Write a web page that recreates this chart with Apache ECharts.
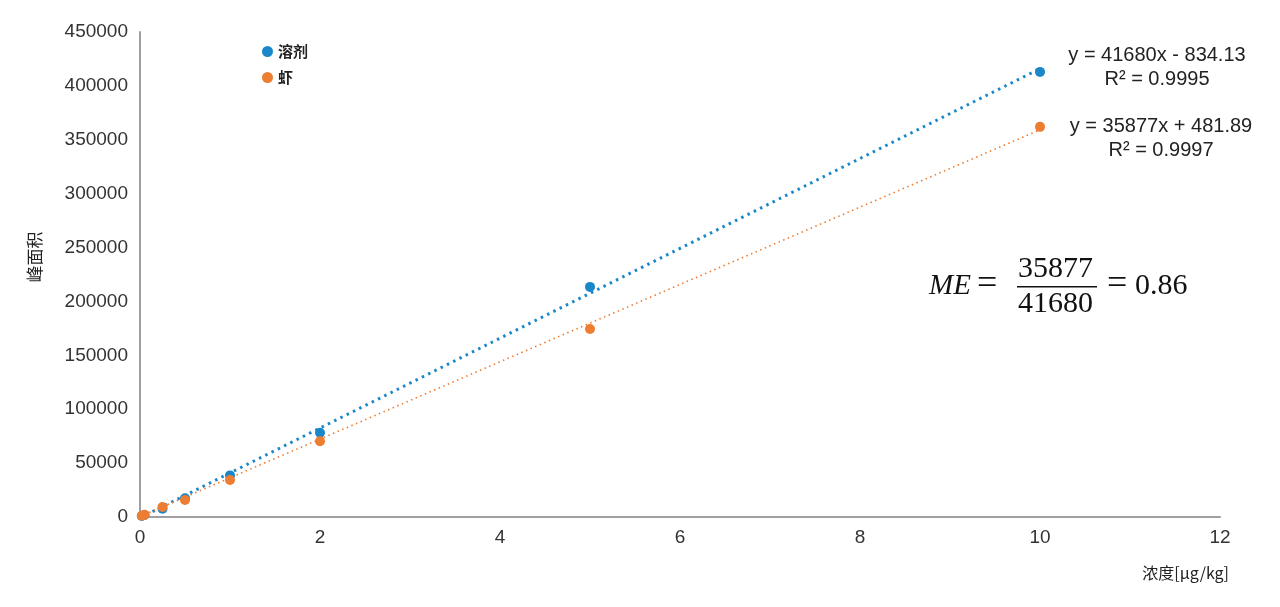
<!DOCTYPE html>
<html>
<head>
<meta charset="utf-8">
<script src="https://cdn.jsdelivr.net/npm/echarts@6/dist/echarts.min.js"></script>
<style>html,body{margin:0;padding:0;background:#fff}#c{width:1280px;height:607px}</style>
</head>
<body>
<div id="c"></div>
<script>
const concentrations = [0.02, 0.05, 0.25, 0.5, 1, 2, 5, 10];
const solventValues = [1000, 1800, 7600, 17400, 38600, 78200, 213500, 413000];
const shrimpValues = [1200, 2000, 9300, 15800, 34300, 70300, 174500, 362000];
const seriesNames = ['溶剂', '虾'];
const solventFit = { slope: 41680, intercept: -834.13, r2: '0.9995' };
const shrimpFit = { slope: 35877, intercept: 481.89, r2: '0.9997' };
const fitRange = [0, 10];
const colors = ['#1a87c9', '#ed7d31'];

const pts = (xs, ys) => xs.map((x, i) => [x, ys[i]]);
const fitLine = f => fitRange.map(x => [x, f.slope * x + f.intercept]);

const chart = echarts.init(document.getElementById('c'));
const textColor = '#333';
const eqFont = { fontSize: 20, fill: '#222', fontFamily: 'Liberation Sans', textAlign: 'center', textVerticalAlign: 'middle' };
const mathFont = { fill: '#111', fontFamily: 'Liberation Serif', textVerticalAlign: 'middle' };
chart.setOption({
  animation: false,
  grid: { left: 140, right: 60, top: 32, bottom: 90 },
  legend: {
    data: seriesNames,
    orient: 'vertical',
    left: 257, top: 39,
    itemWidth: 11, itemHeight: 11, itemGap: 11,
    icon: 'circle',
    textStyle: { fontSize: 15, fontWeight: 'bold', color: '#222', fontFamily: 'Noto Sans CJK SC' }
  },
  xAxis: {
    type: 'value', min: 0, max: 12, interval: 2,
    axisLine: { lineStyle: { color: '#a0a0a0', width: 2 } },
    axisTick: { show: false },
    splitLine: { show: false },
    axisLabel: { fontSize: 19, color: textColor, margin: 11, fontFamily: 'Liberation Sans' }
  },
  yAxis: {
    type: 'value', min: 0, max: 450000, interval: 50000,
    axisLine: { show: true, lineStyle: { color: '#a0a0a0', width: 2 } },
    axisTick: { show: false },
    splitLine: { show: false },
    axisLabel: { fontSize: 19, color: textColor, margin: 12, fontFamily: 'Liberation Sans', formatter: v => String(v) }
  },
  series: [
    {
      name: seriesNames[0] + '趋势', type: 'line', data: fitLine(solventFit),
      symbol: 'none', z: 2,
      lineStyle: { color: colors[0], width: 3, type: [2.5, 4.5] }
    },
    {
      name: seriesNames[1] + '趋势', type: 'line', data: fitLine(shrimpFit),
      symbol: 'none', z: 2,
      lineStyle: { color: colors[1], width: 1.6, type: [1.5, 3.5] }
    },
    {
      name: seriesNames[0], type: 'scatter', data: pts(concentrations, solventValues),
      symbolSize: 10, itemStyle: { color: colors[0], opacity: 1 }, z: 3
    },
    {
      name: seriesNames[1], type: 'scatter', data: pts(concentrations, shrimpValues),
      symbolSize: 10, itemStyle: { color: colors[1], opacity: 1 }, z: 4
    }
  ],
  graphic: [
    { type: 'text', x: 35, y: 257, rotation: Math.PI / 2, style: { text: '峰面积', fontSize: 17, fill: '#222', fontFamily: 'Noto Sans CJK SC', textAlign: 'center', textVerticalAlign: 'middle' } },
    { type: 'text', x: 1229, y: 573, style: { text: '浓度[μg/kg]', fontSize: 16, fill: '#222', fontFamily: 'Noto Sans CJK SC', textAlign: 'right', textVerticalAlign: 'middle' } },
    { type: 'text', x: 1157, y: 55, style: Object.assign({ text: 'y = 41680x - 834.13' }, eqFont) },
    { type: 'text', x: 1157, y: 79, style: Object.assign({ text: 'R² = ' + solventFit.r2 }, eqFont) },
    { type: 'text', x: 1161, y: 126, style: Object.assign({ text: 'y = 35877x + 481.89' }, eqFont) },
    { type: 'text', x: 1161, y: 150, style: Object.assign({ text: 'R² = ' + shrimpFit.r2 }, eqFont) },
    { type: 'text', x: 929, y: 286, style: Object.assign({ text: 'ME', fontSize: 29, fontStyle: 'italic' }, mathFont) },
    { type: 'text', x: 977, y: 285, style: Object.assign({ text: '=', fontSize: 36 }, mathFont) },
    { type: 'text', x: 1018, y: 269, style: Object.assign({ text: '35877', fontSize: 30 }, mathFont) },
    { type: 'rect', shape: { x: 1017, y: 286, width: 80, height: 1.6 }, style: { fill: '#111' } },
    { type: 'text', x: 1018, y: 304, style: Object.assign({ text: '41680', fontSize: 30 }, mathFont) },
    { type: 'text', x: 1107, y: 285, style: Object.assign({ text: '=', fontSize: 36 }, mathFont) },
    { type: 'text', x: 1135, y: 286, style: Object.assign({ text: '0.86', fontSize: 30 }, mathFont) }
  ]
});
</script>
</body>
</html>
